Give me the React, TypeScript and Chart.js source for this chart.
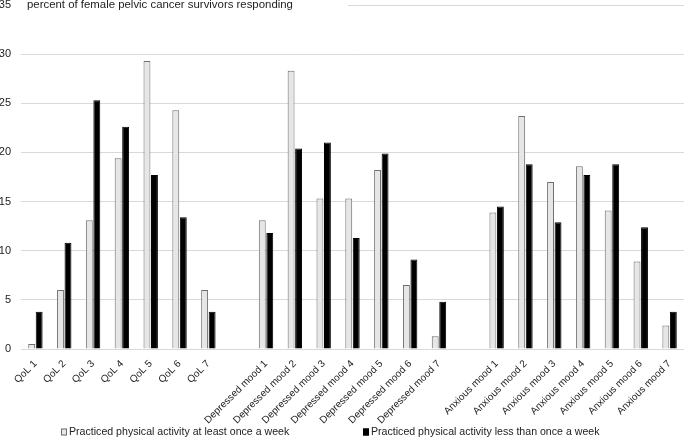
import { useEffect, useRef } from "react";
import { Chart, registerables } from "chart.js";

Chart.register(...registerables);

const categories = [
  "QoL 1", "QoL 2", "QoL 3", "QoL 4", "QoL 5", "QoL 6", "QoL 7",
  "",
  "Depressed mood 1", "Depressed mood 2", "Depressed mood 3", "Depressed mood 4",
  "Depressed mood 5", "Depressed mood 6", "Depressed mood 7",
  "",
  "Anxious mood 1", "Anxious mood 2", "Anxious mood 3", "Anxious mood 4",
  "Anxious mood 5", "Anxious mood 6", "Anxious mood 7",
];

const atLeastWeekly = [
  0.5, 6.0, 13.1, 19.4, 29.3, 24.3, 6.0,
  null,
  13.1, 28.3, 15.3, 15.3, 18.2, 6.5, 1.3,
  null,
  13.9, 23.7, 17.0, 18.6, 14.1, 8.9, 2.4,
];

const lessThanWeekly = [
  3.8, 10.8, 25.3, 22.6, 17.7, 13.4, 3.8,
  null,
  11.8, 20.4, 21.0, 11.3, 19.9, 9.1, 4.8,
  null,
  14.5, 18.8, 12.9, 17.7, 18.8, 12.4, 3.8,
];

const seriesLabels = [
  "Practiced physical activity at least once a week",
  "Practiced physical activity less than once a week",
];

const yMin = 0;
const yMax = 35;
const yStep = 5;

const titleText = "percent of female pelvic cancer survivors responding";

const FONT = "'Liberation Sans', Arial, sans-serif";
const TEXT = "#222222";
const LIGHT_FILL = "#e6e6e6";
const LIGHT_BORDER = "#6e6e6e";
const DARK = "#000000";

const titlePlugin = {
  id: "topTitle",
  afterDraw(chart: any) {
    const { ctx, chartArea } = chart;
    ctx.save();
    ctx.font = `11.4px ${FONT}`;
    const tx = chartArea.left + 6;
    const w = ctx.measureText(titleText).width;
    ctx.fillStyle = "#ffffff";
    ctx.fillRect(chartArea.left - 1, chartArea.top - 3, tx - chartArea.left + w + 56, 6);
    ctx.fillStyle = TEXT;
    ctx.textBaseline = "middle";
    ctx.textAlign = "left";
    ctx.fillText(titleText, tx, chartArea.top);
    ctx.restore();
  },
};

const legendPlugin = {
  id: "bottomLegend",
  afterDraw(chart: any) {
    const { ctx, height } = chart;
    const y = height - 14;
    const items = [
      { x: 61, fill: LIGHT_FILL, stroke: LIGHT_BORDER, text: seriesLabels[0] },
      { x: 363, fill: DARK, stroke: DARK, text: seriesLabels[1] },
    ];
    ctx.save();
    ctx.font = `10.6px ${FONT}`;
    ctx.textBaseline = "middle";
    ctx.textAlign = "left";
    for (const it of items) {
      ctx.fillStyle = it.fill;
      ctx.fillRect(it.x, y - 3.5, 6, 7);
      ctx.strokeStyle = it.stroke;
      ctx.lineWidth = 1;
      ctx.strokeRect(it.x + 0.5, y - 3, 5, 6);
      ctx.fillStyle = TEXT;
      ctx.fillText(it.text, it.x + 8, y);
    }
    ctx.restore();
  },
};

export default function App() {
  const ref = useRef<HTMLCanvasElement | null>(null);

  useEffect(() => {
    if (!ref.current) return;
    const chart = new Chart(ref.current, {
      type: "bar",
      data: {
        labels: categories,
        datasets: [
          {
            label: seriesLabels[0],
            data: atLeastWeekly,
            backgroundColor: LIGHT_FILL,
            borderColor: LIGHT_BORDER,
            borderWidth: 1,
            categoryPercentage: 0.52,
            barPercentage: 0.92,
          },
          {
            label: seriesLabels[1],
            data: lessThanWeekly,
            backgroundColor: DARK,
            borderColor: DARK,
            borderWidth: 1,
            categoryPercentage: 0.52,
            barPercentage: 0.92,
          },
        ],
      },
      options: {
        animation: false,
        responsive: true,
        maintainAspectRatio: false,
        layout: { padding: { left: 0, right: 0, top: 0, bottom: 22 } },
        plugins: {
          legend: { display: false },
          tooltip: { enabled: false },
          title: { display: false },
        },
        scales: {
          x: {
            grid: { display: false },
            border: { display: false },
            ticks: {
              color: TEXT,
              font: { family: FONT, size: 10 },
              minRotation: 45,
              maxRotation: 45,
              autoSkip: false,
              padding: 1,
            },
            afterFit(scale: any) {
              scale.height = 75;
            },
          },
          y: {
            min: yMin,
            max: yMax,
            grid: { color: "#d9d9d9", lineWidth: 1, drawTicks: false },
            border: { display: false },
            ticks: {
              stepSize: yStep,
              color: TEXT,
              font: { family: FONT, size: 11 },
              padding: 10,
            },
            afterFit(scale: any) {
              scale.width = 21;
              scale.paddingTop = 5;
            },
          },
        },
      },
      plugins: [titlePlugin, legendPlugin],
    });
    return () => chart.destroy();
  }, []);

  return (
    <div style={{ position: "fixed", left: 0, top: 0, width: 684, height: 446, background: "#fff" }}>
      <canvas ref={ref} />
    </div>
  );
}
